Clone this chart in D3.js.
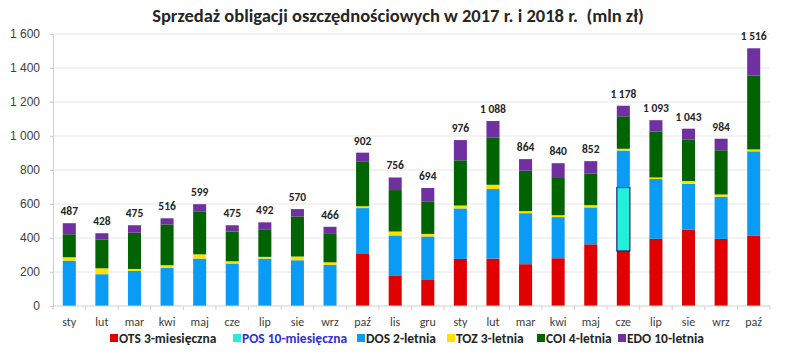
<!DOCTYPE html>
<html>
<head>
<meta charset="utf-8">
<script src="https://cdn.jsdelivr.net/npm/d3@7"></script>
<style>
  body { margin: 0; background: #fff; }
  svg { display: block; font-family: Carlito, Lato, "Open Sans", sans-serif; }
  .grid line { stroke: #e6e6e6; }
  .axis text { fill: #404040; font-size: 12px; }
</style>
</head>
<body>
<svg id="chart" width="786" height="363"></svg>
<script>
// months (2017: sty..paź, 2018: lis 2017..paź 2018)
const months = ["sty","lut","mar","kwi","maj","cze","lip","sie","wrz","paź",
                "lis","gru","sty","lut","mar","kwi","maj","cze","lip","sie","wrz","paź"];

const seriesNames = ["OTS 3-miesięczna","POS 10-miesięczna","DOS 2-letnia","TOZ 3-letnia","COI 4-letnia","EDO 10-letnia"];
const seriesColors = ["#e00000","#22f0d8","#0a9cf5","#ffe000","#006400","#7030a0"];

// sales, mln zł
const ots = [0,0,0,0,0,0,0,0,0,310, 177,157,277,279,246,281,363,324,395,448,395,415];
const pos = [0,0,0,0,0,0,0,0,0,0,   0,0,0,0,0,0,0,373,0,0,0,0];
const dos = [267,187,206,224,279,250,279,269,242,266, 238,252,297,409,300,242,217,217,352,271,247,495];
const toz = [20,35,12,16,25,13,10,22,15,11, 23,15,17,25,12,11,13,11,9,16,14,11];
const coi = [135,170,213,240,250,175,159,236,167,264, 244,189,266,279,238,224,185,191,270,243,260,435];
const edo = [65,36,44,36,45,37,44,43,42,51, 74,81,119,96,68,82,74,62,67,65,68,160];

const yTicks = [0,200,400,600,800,1000,1200,1400,1600];

const svg = d3.select("#chart");
const margin = { left: 53, right: 16, top: 34, bottom: 57 };
const W = 786, H = 363;

const fmt = v => d3.format(",")(v).replace(/,/g, " ");

// title
svg.append("text")
  .attr("x", 398).attr("y", 22)
  .attr("text-anchor", "middle")
  .style("white-space", "pre")
  .attr("font-size", "18.5px").attr("font-weight", "700").attr("fill", "#262626")
  .text("Sprzedaż obligacji oszczędnościowych w 2017 r. i 2018 r.  (mln zł)");

const x = d3.scaleBand()
  .domain(d3.range(months.length))
  .range([margin.left, W - margin.right])
  .paddingInner(0.6).paddingOuter(0.3);

const y = d3.scaleLinear().domain([0, 1600]).range([H - margin.bottom, margin.top]);

// gridlines
svg.append("g").attr("class", "grid")
  .selectAll("line").data(yTicks.slice(1)).join("line")
  .attr("x1", margin.left - 3).attr("x2", W - margin.right)
  .attr("y1", d => y(d)).attr("y2", d => y(d));

// y axis
const yAxis = svg.append("g").attr("class", "axis")
  .attr("transform", `translate(${margin.left},0)`)
  .call(d3.axisLeft(y).tickValues(yTicks).tickFormat(fmt).tickSize(3).tickPadding(10));
yAxis.select(".domain").attr("stroke", "#d0d0d0");
yAxis.selectAll(".tick line").attr("stroke", "#d0d0d0");

// stacked data
const rows = months.map((m, i) => ({ i, v: [ots[i], pos[i], dos[i], toz[i], coi[i], edo[i]] }));
const stack = d3.stack().keys(d3.range(6)).value((d, k) => d.v[k]);
const layers = stack(rows);

svg.append("g").selectAll("g").data(layers).join("g")
  .attr("fill", (d, k) => seriesColors[k])
  .selectAll("rect").data(d => d.filter(p => p[1] > p[0])).join("rect")
  .attr("x", p => x(p.data.i))
  .attr("width", x.bandwidth())
  .attr("y", p => y(p[1]))
  .attr("height", p => y(p[0]) - y(p[1]))
  .attr("stroke", function() { return d3.select(this.parentNode).datum().key === 1 ? "#1a237e" : "none"; })
  .attr("stroke-width", 1.2);

// x axis
const xAxisG = svg.append("g").attr("class", "axis")
  .attr("transform", `translate(0,${y(0)})`);
xAxisG.append("line")
  .attr("x1", margin.left).attr("x2", W - margin.right)
  .attr("stroke", "#d0d0d0");
xAxisG.selectAll(".tk").data(d3.range(months.length + 1)).join("line")
  .attr("x1", i => margin.left + i * x.step())
  .attr("x2", i => margin.left + i * x.step())
  .attr("y1", 0).attr("y2", 4).attr("stroke", "#d0d0d0");
xAxisG.selectAll("text").data(months).join("text")
  .attr("x", (m, i) => x(i) + x.bandwidth() / 2)
  .attr("y", 20)
  .attr("text-anchor", "middle")
  .text(d => d);

// totals
svg.append("g").selectAll("text").data(rows).join("text")
  .attr("x", d => x(d.i) + x.bandwidth() / 2)
  .attr("y", d => y(d3.sum(d.v)) - 8)
  .attr("text-anchor", "middle")
  .attr("font-size", "11.5px").attr("font-weight", "700").attr("fill", "#262626")
  .text(d => fmt(d3.sum(d.v)));

// legend
const legendX = [110, 233, 357, 447, 537, 618];
const lg = svg.append("g").selectAll("g").data(seriesNames).join("g")
  .attr("transform", (d, k) => `translate(${legendX[k]},343)`);
lg.append("rect").attr("x", 0).attr("y", -9).attr("width", 8).attr("height", 8)
  .attr("fill", (d, k) => seriesColors[k]);
lg.append("text").attr("x", 9).attr("y", 0)
  .attr("font-size", "13.5px").attr("font-weight", "700")
  .attr("fill", (d, k) => k === 1 ? "#3030d0" : "#262626")
  .text(d => d);
</script>
</body>
</html>
